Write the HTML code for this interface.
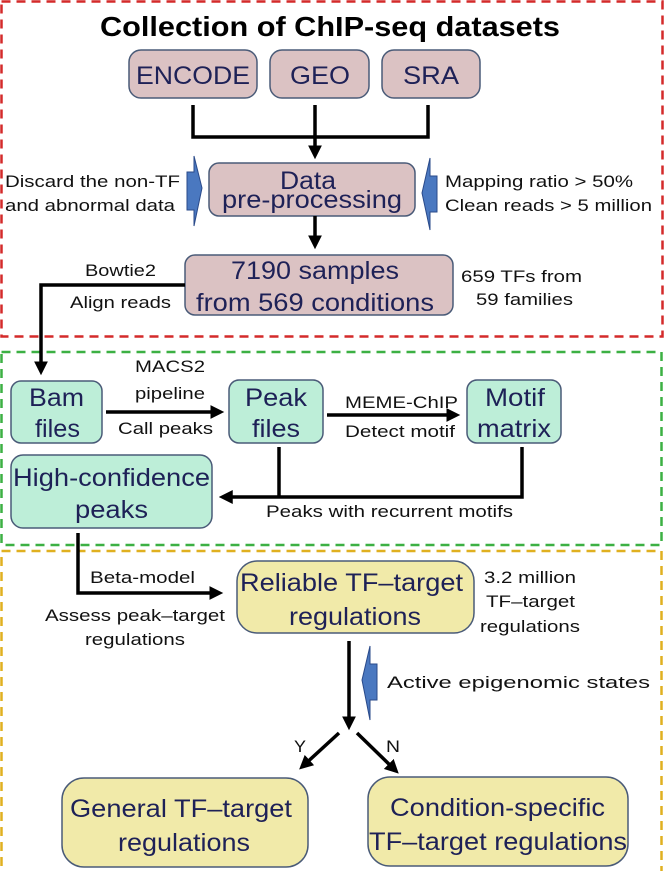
<!DOCTYPE html>
<html><head><meta charset="utf-8"><style>
html,body{margin:0;padding:0;background:#fff;}
svg{display:block;font-family:"Liberation Sans",Arial,sans-serif;}
.bx{stroke:#4a5b78;stroke-width:1.5}
.t{fill:#1e2157;font-size:25px}
.s{fill:#111;font-size:17px}
.l{stroke:#000;stroke-width:3.5;fill:none}
</style></head><body>
<svg width="664" height="871" viewBox="0 0 664 871">
<defs><marker id="a" markerWidth="4" markerHeight="4" refX="2.5" refY="2" orient="auto" markerUnits="strokeWidth"><path d="M0,0 L4,2 L0,4 z" fill="#000"/></marker></defs>
<rect x="1.5" y="1.5" width="661" height="335" fill="none" stroke="#d42a2a" stroke-width="2.5" stroke-dasharray="9,6"/>
<rect x="1.5" y="352" width="660" height="193" fill="none" stroke="#3cb043" stroke-width="2.5" stroke-dasharray="9,6"/>
<rect x="1.5" y="551" width="660" height="330" fill="none" stroke="#e0b020" stroke-width="2.5" stroke-dasharray="9,6"/>
<text x="100" y="36" textLength="460" lengthAdjust="spacingAndGlyphs" font-size="28" font-weight="bold" fill="#000">Collection of ChIP-seq datasets</text>

<rect class="bx" x="129" y="50" width="128" height="48" rx="12" fill="#dbc2c3"/>
<rect class="bx" x="270" y="50" width="99" height="48" rx="12" fill="#dbc2c3"/>
<rect class="bx" x="382" y="50" width="98" height="48" rx="12" fill="#dbc2c3"/>
<text class="t" x="136" y="84" textLength="114" lengthAdjust="spacingAndGlyphs">ENCODE</text>
<text class="t" x="290" y="84" textLength="60" lengthAdjust="spacingAndGlyphs">GEO</text>
<text class="t" x="403" y="84" textLength="56" lengthAdjust="spacingAndGlyphs">SRA</text>
<path class="l" d="M193,105 V137 H428 V105"/>
<path class="l" d="M315,105 V154" marker-end="url(#a)"/>

<rect class="bx" x="209" y="163" width="206" height="53" rx="10" fill="#dbc2c3"/>
<text class="t" x="280" y="189" textLength="56" lengthAdjust="spacingAndGlyphs">Data</text>
<text class="t" x="222" y="208" textLength="180" lengthAdjust="spacingAndGlyphs">pre-processing</text>
<polygon points="194,156 202,188 194,226 194,210 187,210 187,172 194,172" fill="#4a78c0" stroke="#2a4a8a" stroke-width="1"/>
<polygon points="430,158 422,193 430,230 430,212 437,212 437,176 430,176" fill="#4a78c0" stroke="#2a4a8a" stroke-width="1"/>
<text class="s" x="5" y="187" textLength="175" lengthAdjust="spacingAndGlyphs" font-size="19">Discard the non-TF</text>
<text class="s" x="5" y="211" textLength="170" lengthAdjust="spacingAndGlyphs" font-size="19">and abnormal data</text>
<text class="s" x="445" y="187" textLength="188" lengthAdjust="spacingAndGlyphs" font-size="19">Mapping ratio &gt; 50%</text>
<text class="s" x="445" y="211" textLength="207" lengthAdjust="spacingAndGlyphs" font-size="19">Clean reads &gt; 5 million</text>
<path class="l" d="M315,216 V244" marker-end="url(#a)"/>

<rect class="bx" x="185" y="255" width="268" height="60" rx="10" fill="#dbc2c3"/>
<text class="t" x="231" y="279" textLength="168" lengthAdjust="spacingAndGlyphs">7190 samples</text>
<text class="t" x="196" y="311" textLength="238" lengthAdjust="spacingAndGlyphs">from 569 conditions</text>
<text class="s" x="85" y="276" textLength="71" lengthAdjust="spacingAndGlyphs">Bowtie2</text>
<text class="s" x="70" y="308" textLength="101" lengthAdjust="spacingAndGlyphs">Align reads</text>
<text class="s" x="461" y="282" textLength="121" lengthAdjust="spacingAndGlyphs">659 TFs from</text>
<text class="s" x="476" y="305" textLength="97" lengthAdjust="spacingAndGlyphs">59 families</text>
<path class="l" d="M185,285 H41 V370" marker-end="url(#a)"/>

<rect x="11" y="381" width="91" height="62" rx="10" fill="#bdeed8" class="bx"/>
<text class="t" x="29" y="406" textLength="55" lengthAdjust="spacingAndGlyphs">Bam</text>
<text class="t" x="35" y="437" textLength="45" lengthAdjust="spacingAndGlyphs">files</text>
<rect x="229" y="380" width="94" height="63" rx="10" fill="#bdeed8" class="bx"/>
<text class="t" x="245" y="406" textLength="62" lengthAdjust="spacingAndGlyphs">Peak</text>
<text class="t" x="252" y="437" textLength="48" lengthAdjust="spacingAndGlyphs">files</text>
<rect x="467" y="380" width="94" height="63" rx="10" fill="#bdeed8" class="bx"/>
<text class="t" x="485" y="406" textLength="60" lengthAdjust="spacingAndGlyphs">Motif</text>
<text class="t" x="477" y="437" textLength="74" lengthAdjust="spacingAndGlyphs">matrix</text>
<path class="l" d="M106,412 H219" marker-end="url(#a)"/>
<text class="s" x="135" y="372" textLength="70" lengthAdjust="spacingAndGlyphs">MACS2</text>
<text class="s" x="135" y="399" textLength="70" lengthAdjust="spacingAndGlyphs">pipeline</text>
<text class="s" x="118" y="434" textLength="95" lengthAdjust="spacingAndGlyphs">Call peaks</text>
<path class="l" d="M327,415 H455" marker-end="url(#a)"/>
<text class="s" x="345" y="408" textLength="113" lengthAdjust="spacingAndGlyphs">MEME-ChIP</text>
<text class="s" x="345" y="437" textLength="110" lengthAdjust="spacingAndGlyphs">Detect motif</text>

<rect x="11" y="455" width="201" height="73" rx="12" fill="#bdeed8" class="bx"/>
<text class="t" x="13" y="486" textLength="197" lengthAdjust="spacingAndGlyphs">High-confidence</text>
<text class="t" x="75" y="518" textLength="73" lengthAdjust="spacingAndGlyphs">peaks</text>
<path class="l" d="M279,447 V497"/>
<path class="l" d="M522,447 V497 H224" marker-end="url(#a)"/>
<text class="s" x="266" y="517" textLength="247" lengthAdjust="spacingAndGlyphs">Peaks with recurrent motifs</text>

<path class="l" d="M78,533 V593 H218" marker-end="url(#a)"/>
<text class="s" x="90" y="583" textLength="105" lengthAdjust="spacingAndGlyphs">Beta-model</text>
<text class="s" x="45" y="621" textLength="180" lengthAdjust="spacingAndGlyphs">Assess peak–target</text>
<text class="s" x="85" y="645" textLength="100" lengthAdjust="spacingAndGlyphs">regulations</text>
<rect x="237" y="561" width="237" height="72" rx="20" fill="#f1eaa9" class="bx"/>
<text class="t" x="240" y="591" textLength="223" lengthAdjust="spacingAndGlyphs">Reliable TF–target</text>
<text class="t" x="289" y="625" textLength="132" lengthAdjust="spacingAndGlyphs">regulations</text>
<text class="s" x="484" y="583" textLength="92" lengthAdjust="spacingAndGlyphs">3.2 million</text>
<text class="s" x="486" y="607" textLength="89" lengthAdjust="spacingAndGlyphs">TF–target</text>
<text class="s" x="480" y="632" textLength="100" lengthAdjust="spacingAndGlyphs">regulations</text>

<path class="l" d="M349,641 V725" marker-end="url(#a)"/>
<polygon points="370,646 362,680 370,720 370,700 377,700 377,664 370,664" fill="#4a78c0" stroke="#2a4a8a" stroke-width="1"/>
<text class="s" x="387" y="688" textLength="263" lengthAdjust="spacingAndGlyphs" font-size="19">Active epigenomic states</text>
<path class="l" d="M339,733 L303,766" marker-end="url(#a)"/>
<path class="l" d="M357,733 L395,770" marker-end="url(#a)"/>
<text class="s" x="294" y="752" textLength="12" lengthAdjust="spacingAndGlyphs" font-size="19">Y</text>
<text class="s" x="386" y="752" textLength="14" lengthAdjust="spacingAndGlyphs" font-size="19">N</text>

<rect x="62" y="778" width="246" height="89" rx="22" fill="#f1eaa9" class="bx"/>
<text class="t" x="70" y="817" textLength="222" lengthAdjust="spacingAndGlyphs">General TF–target</text>
<text class="t" x="118" y="851" textLength="132" lengthAdjust="spacingAndGlyphs">regulations</text>
<rect x="368" y="777" width="260" height="89" rx="22" fill="#f1eaa9" class="bx"/>
<text class="t" x="390" y="816" textLength="215" lengthAdjust="spacingAndGlyphs">Condition-specific</text>
<text class="t" x="369" y="850" textLength="258" lengthAdjust="spacingAndGlyphs">TF–target regulations</text>
</svg>
</body></html>
